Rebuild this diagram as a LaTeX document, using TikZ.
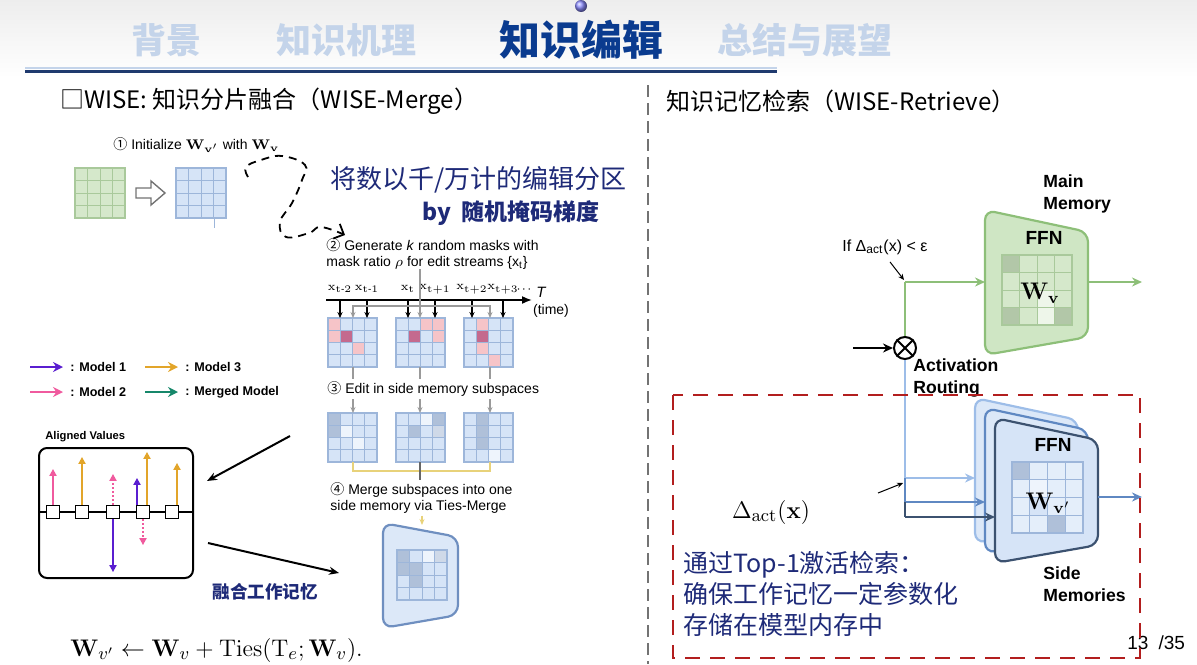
\documentclass[tikz,border=0pt]{standalone}
\usepackage{amsmath,amssymb}
\usepackage[no-math]{fontspec}
\setmainfont{Liberation Sans}
\newfontfamily\cjk{Noto Sans CJK SC}
\usetikzlibrary{arrows.meta,positioning,calc}

\definecolor{hdrpale}{HTML}{C4D4EA}
\definecolor{hdrnavy}{HTML}{0A3B8F}
\definecolor{rulenavy}{HTML}{1F3A6E}
\definecolor{inknavy}{HTML}{1E2A78}
\definecolor{gfill}{HTML}{D5E8CB}
\definecolor{gline}{HTML}{A9C99B}
\definecolor{gdark}{HTML}{B2C7A8}
\definecolor{gwhite}{HTML}{EEF6EA}
\definecolor{gedge}{HTML}{8DBF78}
\definecolor{gshape}{HTML}{CFE6C4}
\definecolor{bfill}{HTML}{D6E4F7}
\definecolor{bline}{HTML}{9DB6DA}
\definecolor{bgray}{HTML}{AFC0D9}
\definecolor{bwhite}{HTML}{EEF4FC}
\definecolor{bshape}{HTML}{DCE8F8}
\definecolor{bedge}{HTML}{6F8FC0}
\definecolor{pk}{HTML}{F6C4C8}
\definecolor{dpk}{HTML}{C46A8E}
\definecolor{mone}{HTML}{5A1ED0}
\definecolor{mtwo}{HTML}{F05A9E}
\definecolor{mthree}{HTML}{E2A52A}
\definecolor{mmerge}{HTML}{16876A}
\definecolor{redbox}{HTML}{B21E1E}
\definecolor{sbone}{HTML}{9DBDE8}
\definecolor{sbtwo}{HTML}{5F88C2}
\definecolor{sbthree}{HTML}{3C5270}
\definecolor{tie}{HTML}{E8D27A}
\definecolor{linkgray}{HTML}{9A9A9A}

% 4x4 weight grid: x, y, size, fill, line colour, cells c/r/colour
\newcommand{\wgrid}[6]{%
  \fill[#4] (#1,#2) rectangle ++(#3,#3);
  \foreach \gc/\gr/\gk in {#6} {\fill[\gk] ({#1+\gc*#3/4},{#2+\gr*#3/4}) rectangle ++({#3/4},{#3/4});}
  \foreach \gi in {1,2,3} {\draw[#5,line width=0.5pt] ({#1+\gi*#3/4},#2) -- ++(0,#3);
    \draw[#5,line width=0.5pt] (#1,{#2+\gi*#3/4}) -- ++(#3,0);}
  \draw[#5,line width=0.6pt] (#1,#2) rectangle ++(#3,#3);}

\begin{document}
\begin{tikzpicture}[x=0.5pt,y=-0.5pt,
  hdr/.style={font=\cjk\bfseries\fontsize{17.5}{20}\selectfont,text=hdrpale,inner sep=0},
  ttl/.style={font=\cjk\fontsize{12}{14}\selectfont,anchor=west,inner sep=0},
  note/.style={font=\cjk\fontsize{12.5}{15.5}\selectfont,text=inknavy,anchor=west,inner sep=0,align=left},
  small/.style={font=\fontsize{7}{8}\selectfont,inner sep=0},
  legend/.style={font=\bfseries\fontsize{6.3}{7}\selectfont,anchor=west,inner sep=0},
  tag/.style={font=\bfseries\fontsize{8.8}{11}\selectfont,anchor=west,inner sep=0,align=left},
  flow/.style={-{Stealth[length=5pt,width=4.5pt]},line width=1pt},
  pointer/.style={-{Stealth[length=3pt,width=2.6pt]},line width=0.5pt},
  link/.style={line width=0.7pt,draw=linkgray},
  vec/.style={-{Triangle[length=3.5pt,width=3.5pt]},line width=1pt},
  sq/.style={draw,fill=white,line width=0.6pt,minimum size=6.5pt,inner sep=0},
  memshape/.style={rounded corners=5pt,line width=1.1pt}]
\useasboundingbox (0,0) rectangle (1197,664);

% header
\shade[top color=black!7,bottom color=white] (0,0) rectangle (1197,78);
\shade[ball color=blue!45] (581,6) circle (6);
\node[hdr] (secbg) at (166,40) {背景};
\node[hdr] (secmech) at (346,40) {知识机理};
\node[hdr,text=hdrnavy,font=\cjk\bfseries\fontsize{20.5}{23}\selectfont] (secedit) at (581,40) {知识编辑};
\node[hdr] (secout) at (805,40) {总结与展望};
\draw[hdrpale,line width=0.8pt] (25,68) -- (777,68);
\draw[rulenavy,line width=1.6pt] (25,71.5) -- (777,71.5);

\node[ttl] (mergettl) at (60,101) {□WISE: 知识分片融合（WISE-Merge）};
\node[ttl] (retrttl) at (666,101) {知识记忆检索（WISE-Retrieve）};
\draw[black!55,line width=0.6pt,dash pattern=on 6pt off 3pt] (648,85) -- (648,664);

% step 1
\node[small,anchor=west] (init) at (113,145) {{\cjk ①} Initialize $\mathbf{W}_{\mathbf{v}'}$ with $\mathbf{W}_{\mathbf{v}}$};
\wgrid{75}{168}{50}{gfill}{gline}{0/0/gfill}
\wgrid{176}{168}{50}{bfill}{bline}{0/0/bfill}
\draw[bline,line width=0.5pt] (214,218) -- (214,228);
\draw[black!55,line width=0.7pt,fill=white] (136,188) -- (151,188) -- (151,181) -- (165,193)
  -- (151,205) -- (151,198) -- (136,198) -- cycle;
\draw[line width=0.9pt,dash pattern=on 4pt off 3pt,-{Straight Barb[length=4pt]}]
  plot[smooth,tension=0.7] coordinates {(248,177) (246,167) (261,160) (282,156) (305,165)
  (302,180) (292,203) (280,222) (286,237) (309,233) (321,227) (345,235)};
\node[note,font=\cjk\fontsize{13}{15}\selectfont] (partition) at (330,180) {将数以千/万计的编辑分区};
\node[note,font=\cjk\bfseries\fontsize{11.5}{14}\selectfont] (bymask) at (422,213) {by\ \ 随机掩码梯度};

% step 2
\node[small,anchor=west,align=left] (gen) at (326,254) {{\cjk ②} Generate \textit{k} random masks with\\mask ratio $\rho$ for edit streams \{x\textsubscript{t}\}};
\foreach \n/\x/\s in {xa/340/t\text{-}2,xb/367/t\text{-}1,xc/408/t,xd/435/t{+}1,xe/472/t{+}2,xf/503/t{+}3}
  \node[small,font=\fontsize{6}{7}\selectfont] (\n) at (\x,289) {$\mathrm{x}_{\mathrm{\s}}$};
\node[small,font=\fontsize{6}{7}\selectfont] (dots) at (524,290) {$\cdot\!\cdot\!\cdot$};
\coordinate (tstart) at (326,300);
\coordinate (tend) at (532,300);
\coordinate (rowone) at (0,318);
\draw[-{Latex[length=5pt,width=4pt]},line width=0.8pt] (tstart) -- (tend);
\node[small,font=\itshape\fontsize{7.5}{8}\selectfont] (tlab) at (541,292) {T};
\node[small] (timelab) at (551,311) {(time)};

\wgrid{328}{318}{49}{bfill}{bline}{0/0/pk,0/1/pk,1/1/dpk,2/2/pk}
\wgrid{396}{318}{49}{bfill}{bline}{2/0/pk,3/0/pk,1/1/dpk,3/1/pk}
\wgrid{464}{318}{49}{bfill}{bline}{1/0/pk,1/1/dpk,1/2/pk,2/3/pk}
\foreach \n in {xa,xb,xc,xd,xe,xf}
  \draw[pointer,line width=0.6pt] (\n |- tstart) -- (\n |- rowone);
\draw[link,{Stealth[length=3pt,width=2.5pt]}-{Stealth[length=3pt,width=2.5pt]}] (353,318) -- (353,306) -- (490,306) -- (490,318);
\draw[link,-{Stealth[length=3pt,width=2.5pt]}] (420,269) -- (420,318);

% step 3
\wgrid{328}{413}{49}{bfill}{bline}{0/0/bgray,0/1/bgray,1/1/bwhite,2/2/bwhite}
\wgrid{396}{413}{49}{bfill}{bline}{2/0/bwhite,3/0/bgray,1/1/bgray,3/1/bgray!60}
\wgrid{464}{413}{49}{bfill}{bline}{1/0/bgray,1/1/bgray,1/2/bgray,2/3/bwhite}
\foreach \x in {353,420,490}
  \draw[link,-{Stealth[length=3pt,width=2.5pt]}] (\x,367) -- (\x,413);
\node[small,anchor=west,fill=white,inner ysep=1.5pt] (edit) at (327,389) {{\cjk ③} Edit in side memory subspaces};

% step 4
\draw[tie,line width=0.7pt] (353,462) -- (353,471) -- (490,471) -- (490,462);
\draw[black!60,line width=0.7pt] (420,462) -- (420,480);
\node[small,anchor=north west,align=left,fill=white,inner ysep=1pt] (mergetxt) at (330,480) {{\cjk ④} Merge subspaces into one\\side memory via Ties-Merge};
\draw[memshape,bedge,fill=bshape] (383,523) -- (458,537) -- (458,615) -- (383,628) -- cycle;
\wgrid{397}{550}{50}{bfill}{bline}{0/0/bgray,2/0/bwhite,3/0/bgray!60,0/1/bgray,1/1/bgray,1/2/bgray}
\coordinate (mergetop) at (422,525);
\draw[tie,-{Stealth[length=3pt,width=2.5pt]},line width=0.7pt] (mergetxt.south -| mergetop) -- (mergetop);

% legend
\node[legend] (lgone) at (70,367) {: Model 1};
\node[legend] (lgthree) at (185,367) {: Model 3};
\node[legend] (lgtwo) at (70,392) {: Model 2};
\node[legend] (lgmerge) at (185,392) {: Merged Model};
\foreach \n/\k in {lgone/mone,lgthree/mthree,lgtwo/mtwo,lgmerge/mmerge}
  \draw[\k,-{Stealth[length=5pt,width=5pt]},line width=1.3pt] ([xshift=-20pt]\n.west) -- ([xshift=-3.5pt]\n.west);

% aligned values
\node[font=\bfseries\fontsize{5.6}{7}\selectfont,anchor=west,inner sep=0] (aligned) at (45,437) {Aligned Values};
\node[draw,line width=1pt,rounded corners=4pt,minimum width=77pt,minimum height=65pt,inner sep=0] (alignbox) at (116,513) {};
\draw[line width=1pt] (alignbox.west |- 0,512) -- (alignbox.east |- 0,512);
\foreach \x [count=\i] in {53,82,113,143,172}
  \node[sq] (s\i) at (\x,512) {};
\draw[vec,mtwo] (s1.north) -- ++(0,-36);
\draw[vec,mthree] (s2.north) -- ++(0,-48);
\draw[vec,mtwo,densely dotted] (s3.north) -- ++(0,-31);
\draw[vec,mone] (s3.south) -- ++(0,53);
\draw[vec,mone] ([xshift=-3pt]s4.north) -- ++(0,-27);
\draw[vec,mthree] ([xshift=2pt]s4.north) -- ++(0,-53);
\draw[vec,mtwo,densely dotted] (s4.south) -- ++(0,26);
\draw[vec,mthree] ([xshift=2.5pt]s5.north) -- ++(0,-42);
\coordinate (zoomfrom) at (290,436);
\coordinate (zoomto) at (207,481);
\draw[flow,-{Stealth[length=5pt,width=4pt]}] (zoomfrom) -- (zoomto);
\coordinate (fusefrom) at (208,543);
\coordinate (fuseto) at (339,573);
\draw[flow,-{Stealth[length=5pt,width=4pt]}] (fusefrom) -- (fuseto);
\node[note,font=\cjk\bfseries\fontsize{8.8}{10}\selectfont] (fuse) at (212,592) {融合工作记忆};

\node[font=\fontsize{13}{15}\selectfont,anchor=west,inner sep=0] (formula) at (70,650)
  {$\mathbf{W}_{v'} \leftarrow \mathbf{W}_v + \mathrm{Ties}(\mathrm{T}_e;\mathbf{W}_v).$};

% main memory
\draw[memshape,gedge,fill=gshape] (985,210) -- (1088,232) -- (1088,337) -- (985,355) -- cycle;
\wgrid{1002}{255}{70}{gfill}{gline}{0/0/gdark,0/3/gdark,3/3/gdark,2/3/gwhite,2/2/gwhite}
\node[font=\fontsize{12}{14}\selectfont] (wv) at (1040,293) {$\mathbf{W}_{\mathbf{v}}$};
\node[font=\bfseries\fontsize{9.5}{11}\selectfont] (ffnmain) at (1044,238) {FFN};
\node[tag] (mainlab) at (1043,194) {Main\\Memory};
\node[font=\fontsize{8}{10}\selectfont,anchor=west,inner sep=0] (ifcond) at (842,247) {If Δ\textsubscript{act}(x) < ε};
\node[circle,draw,line width=1pt,minimum size=11pt,inner sep=0] (route) at (905,348) {};
\draw[line width=1pt] (route.45) -- (route.225) (route.135) -- (route.315);
\coordinate (xin) at (853,348);
\draw[flow] (xin) -- (route.west);
\coordinate (jn) at (905,282);
\coordinate (mainin) at (985,282);
\coordinate (mainout) at (1088,282);
\coordinate (mainend) at (1142,282);
\draw[gedge,line width=1.2pt] (route.north) -- (jn);
\draw[gedge,flow,line width=1.2pt] (jn) -- (mainin);
\draw[gedge,flow,line width=1.2pt] (mainout) -- (mainend);
\draw[pointer] ([shift={(2.5pt,-3.5pt)}]ifcond.south) -- ([shift={(-0.5pt,1pt)}]jn);
\node[tag] (actroute) at (913,378) {Activation\\Routing};

% side memories
\draw[memshape,sbone,fill=bshape] (975,398) -- (1078,420) -- (1078,525) -- (975,543) -- cycle;
\draw[memshape,sbtwo,fill=bshape] (985,408) -- (1088,430) -- (1088,535) -- (985,553) -- cycle;
\draw[memshape,sbthree,fill=bfill] (995,418) -- (1098,440) -- (1098,545) -- (995,563) -- cycle;
\wgrid{1012}{462}{71}{bwhite!60!bfill}{bline}{0/0/bgray,2/3/bgray,1/1/bwhite,1/2/bfill}
\node[font=\fontsize{12}{14}\selectfont] (wvp) at (1048,503) {$\mathbf{W}_{\mathbf{v}'}$};
\node[font=\bfseries\fontsize{9.5}{11}\selectfont] (ffnside) at (1053,445) {FFN};
\node[tag] (sidelab) at (1043,584) {Side\\Memories};
\coordinate (ra) at (905,478);
\coordinate (rb) at (905,502);
\coordinate (rc) at (905,517);
\draw[sbone,line width=1.2pt] (route.south) -- (ra);
\draw[sbone,flow,line width=1.2pt] (ra) -- (975,478);
\draw[sbtwo,line width=1.2pt] (ra) -- (rb);
\draw[sbtwo,flow,line width=1.2pt] (rb) -- (985,502);
\draw[sbthree,line width=1.2pt] (rb) -- (rc);
\draw[sbthree,flow,line width=1.2pt] (rc) -- (995,517);
\draw[sbtwo,flow,line width=1.2pt] (1098,497) -- (1142,497);
\coordinate (dfrom) at (878,493);
\draw[pointer] (dfrom) -- ([shift={(-1pt,0.5pt)}]ra |- 0,484);

\node[font=\fontsize{13}{15}\selectfont] (dact) at (771,512) {$\Delta_{\mathrm{act}}(\mathbf{x})$};
\node[note] (top1) at (683,594) {通过Top-1激活检索：\\确保工作记忆一定参数化\\存储在模型内存中};

\node[font=\fontsize{9.5}{11}\selectfont,anchor=west,inner sep=0] (pageno) at (1127,643) {13\hspace{5pt}/35};
\draw[redbox,line width=1.3pt,dash pattern=on 7.5pt off 5pt] (673,395) rectangle (1140,658);
\end{tikzpicture}
\end{document}
